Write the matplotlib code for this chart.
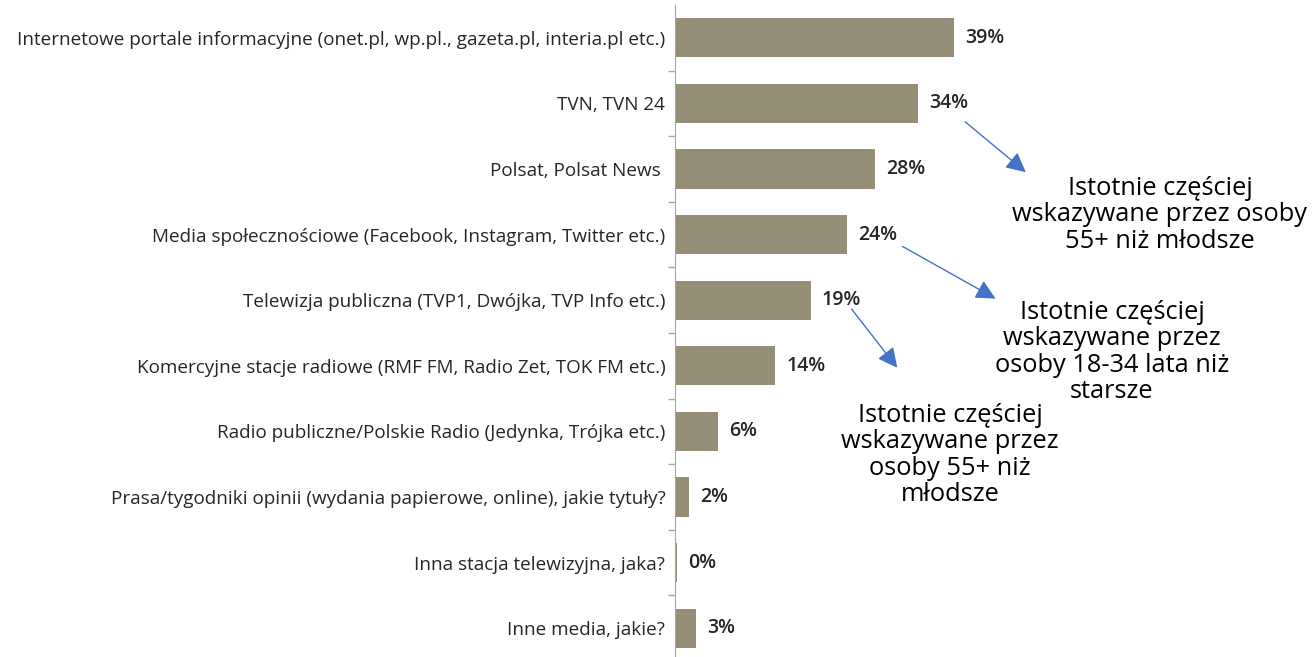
import matplotlib
matplotlib.use("Agg")
import matplotlib.pyplot as plt
from matplotlib.ticker import FixedLocator, NullLocator

# ===== DATA =====
categories = [
    "Internetowe portale informacyjne (onet.pl, wp.pl., gazeta.pl, interia.pl etc.)",
    "TVN, TVN 24",
    "Polsat, Polsat News ",
    "Media społecznościowe (Facebook, Instagram, Twitter etc.)",
    "Telewizja publiczna (TVP1, Dwójka, TVP Info etc.)",
    "Komercyjne stacje radiowe (RMF FM, Radio Zet, TOK FM etc.)",
    "Radio publiczne/Polskie Radio (Jedynka, Trójka etc.)",
    "Prasa/tygodniki opinii (wydania papierowe, online), jakie tytuły?",
    "Inna stacja telewizyjna, jaka?",
    "Inne media, jakie?",
]
values = [39, 34, 28, 24, 19, 14, 6, 2, 0.3, 3]
value_labels = ["39%", "34%", "28%", "24%", "19%", "14%", "6%", "2%", "0%", "3%"]

notes = [
    "Istotnie częściej\nwskazywane przez osoby\n55+ niż młodsze",
    "Istotnie częściej\nwskazywane przez\nosoby 18-34 lata niż\nstarsze",
    "Istotnie częściej\nwskazywane przez\nosoby 55+ niż\nmłodsze",
]

# ===== COLORS =====
bar_color = "#968F77"
text_color = "#262626"
arrow_color = "#4472C4"

W, H = 1313, 657
plt.rcParams['font.family'] = ['Open Sans', 'DejaVu Sans']

fig = plt.figure(figsize=(W / 100, H / 100), dpi=100)
ax = fig.add_axes([675 / W, 1 - 661 / H, 572 / W, 656 / H])

ypos = list(range(len(categories)))
ax.barh(ypos, values, height=0.6, color=bar_color)
ax.set_xlim(0, 80)
ax.set_ylim(len(categories) - 0.5, -0.5)

ax.set_yticks(ypos)
ax.set_yticklabels(categories, fontsize=13.6, color=text_color)
ax.tick_params(axis='y', which='major', length=0, pad=7)
ax.yaxis.set_minor_locator(FixedLocator([i + 0.5 for i in range(len(categories) - 1)]))
ax.tick_params(axis='y', which='minor', length=5, color="#A6A6A6", width=1)
ax.xaxis.set_major_locator(NullLocator())

for s in ["top", "right", "bottom"]:
    ax.spines[s].set_visible(False)
ax.spines["left"].set_color("#A6A6A6")

for y, v, lab in zip(ypos, values, value_labels):
    ax.annotate(lab, (v, y), xytext=(8, 0), textcoords="offset points",
                va="center", ha="left", fontsize=14, color=text_color,
                fontweight="semibold")

# ===== ANNOTATIONS =====
def px(x, y):
    return (x / W, 1 - y / H)

arrows = [((963, 120), (1028, 174)), ((900, 245), (998, 300)), ((850, 307), (899, 370))]
for start, end in arrows:
    fig.add_artist(matplotlib.patches.FancyArrowPatch(
        px(*start), px(*end), transform=fig.transFigure,
        arrowstyle="-|>,head_length=8,head_width=4", mutation_scale=1.5,
        color=arrow_color, lw=1))

note_pos = [(1160, 215), (1112, 352), (950, 455)]
for txt, (x, y) in zip(notes, note_pos):
    fig.text(*px(x, y), txt, ha="center", va="center", fontsize=18.3,
             color="black", linespacing=1.08)

fig.savefig("out.png", dpi=100)
